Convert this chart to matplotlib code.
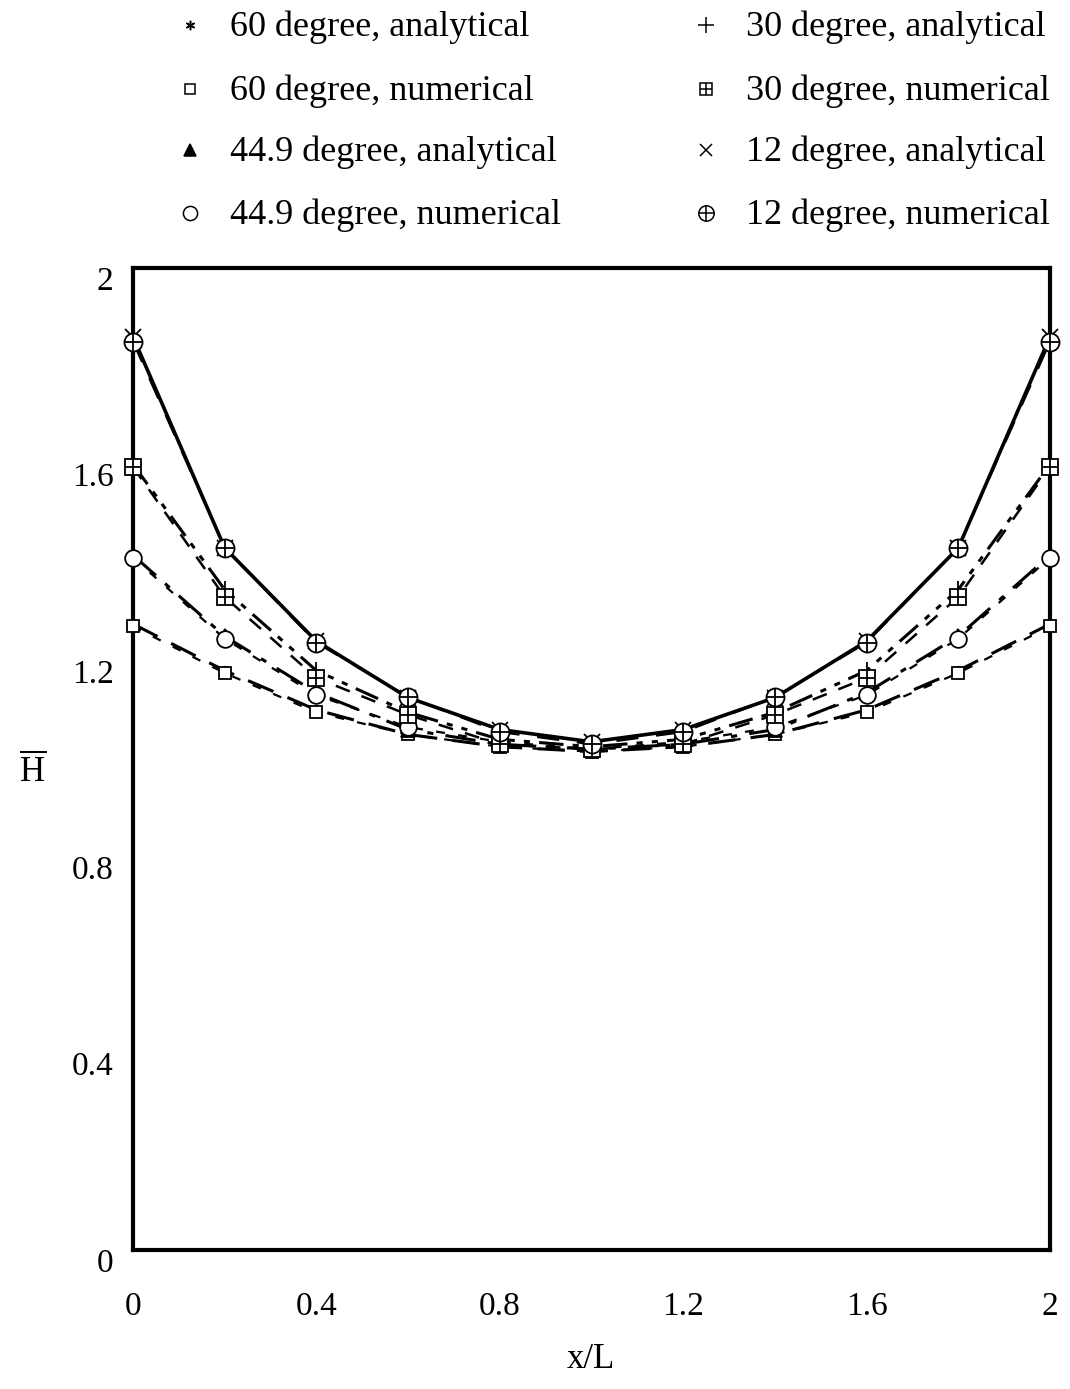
import matplotlib
matplotlib.use('Agg')
import matplotlib.pyplot as plt
from matplotlib.transforms import ScaledTranslation

plt.rcParams['font.family'] = ['Liberation Serif', 'DejaVu Serif']
plt.rcParams['mathtext.fontset'] = 'custom'
plt.rcParams['mathtext.rm'] = 'Liberation Serif'

# x/L positions
x = [0.0, 0.2, 0.4, 0.6, 0.8, 1.0, 1.2, 1.4, 1.6, 1.8, 2.0]

# H-bar values
h60_ana = [1.275, 1.18, 1.10, 1.05, 1.025, 1.015, 1.025, 1.05, 1.10, 1.18, 1.275]
h60_num = [1.27, 1.175, 1.095, 1.05, 1.025, 1.015, 1.025, 1.05, 1.095, 1.175, 1.27]
h45_ana = [1.415, 1.25, 1.135, 1.06, 1.03, 1.02, 1.03, 1.06, 1.135, 1.25, 1.415]
h45_num = [1.41, 1.245, 1.13, 1.065, 1.035, 1.02, 1.035, 1.065, 1.13, 1.245, 1.41]
h30_ana = [1.60, 1.345, 1.18, 1.095, 1.04, 1.025, 1.04, 1.095, 1.18, 1.345, 1.60]
h30_num = [1.595, 1.33, 1.165, 1.09, 1.03, 1.02, 1.03, 1.09, 1.165, 1.33, 1.595]
h12_ana = [1.86, 1.43, 1.24, 1.125, 1.06, 1.035, 1.06, 1.125, 1.24, 1.43, 1.86]
h12_num = [1.85, 1.43, 1.237, 1.126, 1.055, 1.03, 1.055, 1.126, 1.237, 1.43, 1.85]

labels = ['60 degree, analytical', '60 degree, numerical',
          '44.9 degree, analytical', '44.9 degree, numerical',
          '30 degree, analytical', '30 degree, numerical',
          '12 degree, analytical', '12 degree, numerical']

xticks = [0, 0.4, 0.8, 1.2, 1.6, 2]
xticklabels = ['0', '0.4', '0.8', '1.2', '1.6', '2']
yticks = [0, 0.4, 0.8, 1.2, 1.6, 2]
yticklabels = ['0', '0.4', '0.8', '1.2', '1.6', '2']

W, H = 1070, 1389
fig = plt.figure(figsize=(W / 100, H / 100), dpi=100)
ax = fig.add_axes([133 / W, 1 - 1250 / H, (1050 - 133) / W, (1250 - 268) / H])

star = (6, 2, 0)
# marker specs: list of (marker, size, filled) drawn on top of each other
specs = [
    [(star, 8, True)],
    [('s', 8, False)],
    [('^', 10, True)],
    [('o', 12, False)],
    [('+', 13, True)],
    [('s', 11, False), ('+', 11, True)],
    [('x', 11, True)],
    [('o', 13, False), ('+', 13, True)],
]
series = [h60_ana, h60_num, h45_ana, h45_num, h30_ana, h30_num, h12_ana, h12_num]
lines = [
    dict(ls=(0, (9, 5)), lw=2.2),
    dict(ls=(0, (4, 6)), lw=1.6),
    dict(ls=(0, (10, 4, 2, 4)), lw=2.2),
    dict(ls=(0, (4, 6)), lw=1.6),
    dict(ls=(0, (8, 3, 2, 3, 2, 3)), lw=2.2),
    dict(ls=(0, (6, 5)), lw=1.8),
    dict(ls='-', lw=2.6),
    dict(ls=(0, (10, 8)), lw=1.6),
]

for y, spec, st in zip(series, specs, lines):
    ax.plot(x, y, color='black', linestyle=st['ls'], linewidth=st['lw'], zorder=2)
    for m, s, filled in spec:
        ax.plot(x, y, linestyle='none', marker=m, markersize=s, color='black',
                markerfacecolor='black' if filled else 'white',
                markeredgewidth=1.3, clip_on=False, zorder=3)

ax.set_xlim(0, 2)
ax.set_ylim(0, 2)
ax.set_xticks(xticks)
ax.set_xticklabels(xticklabels)
ax.set_yticks(yticks)
ax.set_yticklabels(yticklabels)
ax.tick_params(length=0, labelsize=24)
ax.tick_params(axis='x', pad=30)
ax.tick_params(axis='y', pad=14)
# the y labels sit a little below their values in the original
shift = ScaledTranslation(0, -0.1, fig.dpi_scale_trans)
for lab in ax.get_yticklabels():
    lab.set_transform(lab.get_transform() + shift)
for sp in ax.spines.values():
    sp.set_linewidth(3)

fig.text(591 / W, 1 - 1360 / H, 'x/L', fontsize=25, ha='center', va='center')
fig.text(33 / W, 1 - 772 / H, r'$\overline{\mathrm{H}}$', fontsize=25, ha='center', va='center')

# legend drawn above the plot, two columns
leg = fig.add_axes([0, 0, 1, 1])
leg.set_xlim(0, W)
leg.set_ylim(H, 0)
leg.axis('off')
col_x = [190, 706]
row_y = [25, 89, 150, 213]
for i, (lab, spec) in enumerate(zip(labels, specs)):
    c, r = divmod(i, 4)
    for m, s, filled in spec:
        leg.plot([col_x[c]], [row_y[r]], linestyle='none', marker=m, markersize=s * 0.85,
                 color='black', markerfacecolor='black' if filled else 'white',
                 markeredgewidth=1.1)
    leg.text(col_x[c] + 40, row_y[r] + 2, lab, fontsize=26, va='center', ha='left')

fig.savefig('out.png', dpi=100)
